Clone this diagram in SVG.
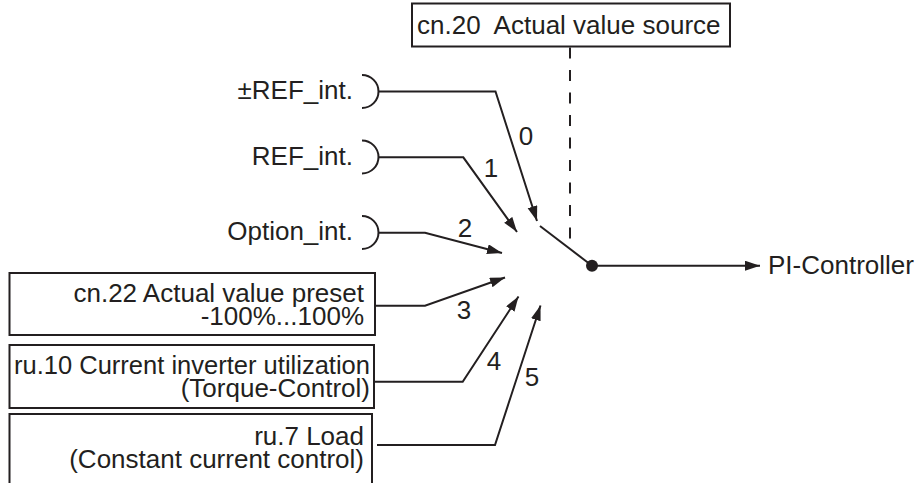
<svg xmlns="http://www.w3.org/2000/svg" width="923" height="483" viewBox="0 0 923 483">
<style>
text{font-family:"Liberation Sans",Arial,sans-serif;font-size:26px;fill:#231f20;white-space:pre}
.e{text-anchor:end}
.m{text-anchor:middle}
.box{fill:none;stroke:#231f20;stroke-width:2}
.ln{fill:none;stroke:#231f20;stroke-width:2}
.arr{marker-end:url(#ah)}
</style>
<defs>
<marker id="ah" markerUnits="userSpaceOnUse" markerWidth="16" markerHeight="11" refX="15" refY="5" orient="auto">
<path d="M0,0 L15,5 L0,10 z" fill="#231f20"/>
</marker>
</defs>
<rect width="923" height="483" fill="#fff"/>
<g id="source">
<rect class="box" x="412" y="3.5" width="318" height="43"/>
<text x="417" y="33.5">cn.20  Actual value source</text>
</g>
<g id="ref_pm">
<text class="e" x="353" y="98.5">±REF_int.</text>
<path class="ln" d="M362,75 A16.5,16.5 0 0 1 362,108"/>
</g>
<g id="ref_int">
<text class="e" x="353" y="165">REF_int.</text>
<path class="ln" d="M362,140.5 A16.5,16.5 0 0 1 362,173.5"/>
</g>
<g id="option_int">
<text class="e" x="353" y="239.5">Option_int.</text>
<path class="ln" d="M362,216 A16.5,16.5 0 0 1 362,249"/>
</g>
<g id="cn22">
<rect class="box" x="9.5" y="273" width="365.5" height="62"/>
<text class="e" x="364" y="302">cn.22 Actual value preset</text>
<text class="e" x="364" y="325">-100%...100%</text>
</g>
<g id="ru10">
<rect class="box" x="9.5" y="345" width="364.5" height="63"/>
<text class="e" x="370" y="374" textLength="356" lengthAdjust="spacingAndGlyphs">ru.10 Current inverter utilization</text>
<text class="e" x="370" y="397">(Torque-Control)</text>
</g>
<g id="ru7">
<rect class="box" x="9.5" y="414" width="362.5" height="90"/>
<text class="e" x="364" y="445">ru.7 Load</text>
<text class="e" x="364" y="468">(Constant current control)</text>
</g>
<g id="pi">
<text x="768" y="274">PI-Controller</text>
</g>
<g id="connectors">
<path class="ln arr" d="M378.5,91.5 H495.5 L537,221"/>
<path class="ln arr" d="M378.5,157.3 H463.3 L517,232"/>
<path class="ln arr" d="M378.5,232.7 H425 L502,253"/>
<path class="ln arr" d="M375,305.7 H425 L505,277.5"/>
<path class="ln arr" d="M374,381.7 H462.7 L518.5,296.5"/>
<path class="ln arr" d="M377,445 H495 L540.5,305.5"/>
<line class="ln" x1="570" y1="47.5" x2="570" y2="246" stroke-dasharray="11 11.5"/>
<line class="ln" x1="540" y1="226" x2="592" y2="265.7"/>
<circle cx="592" cy="265.7" r="6" fill="#231f20"/>
<path class="ln arr" d="M592,265.7 H760"/>
<text class="m" x="526" y="144.5">0</text>
<text class="m" x="491" y="177">1</text>
<text class="m" x="465" y="236.5">2</text>
<text class="m" x="464" y="319">3</text>
<text class="m" x="494" y="370">4</text>
<text class="m" x="532" y="386">5</text>
</g>
</svg>
